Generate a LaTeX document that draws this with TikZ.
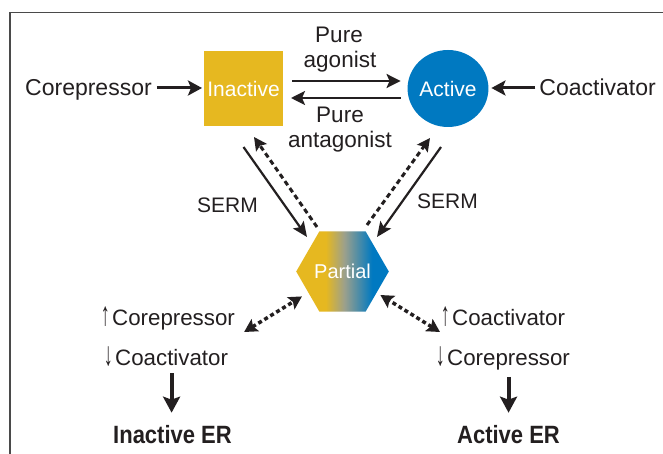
\documentclass[tikz,border=0pt]{standalone}
\usepackage{fontspec}
\usepackage{graphicx}
\setmainfont{Liberation Sans}
\newfontfamily\condfont[FakeStretch=0.88]{Liberation Sans}
\usetikzlibrary{arrows.meta,shapes.geometric,calc}
\definecolor{ink}{HTML}{231F20}
\definecolor{gold}{HTML}{E6B820}
\definecolor{erblue}{HTML}{0079C1}
\definecolor{midgray}{HTML}{9CA08C}
\definecolor{framecol}{HTML}{4A4A4A}
\pgfdeclarehorizontalshading{hexshade}{100bp}{color(0bp)=(gold); color(41bp)=(gold); color(51bp)=(midgray); color(66bp)=(erblue); color(100bp)=(erblue)}
\newcommand\myup{\scalebox{0.8}[1.5]{↑}}
\newcommand\mydn{\scalebox{0.8}[1.5]{↓}}
\begin{document}
\begin{tikzpicture}[x=1pt,y=-1pt,
  lbl/.style={font=\fontsize{23}{26}\selectfont, text=ink, inner sep=0pt},
  plbl/.style={font=\fontsize{22.5}{25}\selectfont, text=ink, inner sep=0pt},
  slbl/.style={font=\fontsize{21}{24}\selectfont, text=ink, inner sep=0pt},
  blbl/.style={font=\fontsize{22.3}{25}\selectfont, text=ink, inner sep=0pt},
  erlbl/.style={font=\condfont\bfseries\fontsize{25}{28}\selectfont, text=ink, inner sep=0pt},
  wlbl/.style={font=\fontsize{21}{24}\selectfont, text=white, inner sep=0pt},
  bigarr/.style={draw=ink, line width=3pt, -{Stealth[length=14pt,width=15pt,inset=3pt]}},
  midarr/.style={draw=ink, line width=2.5pt, -{Stealth[length=14pt,width=14pt,inset=3pt]}},
  sermarr/.style={draw=ink, line width=2.2pt, -{Stealth[length=15pt,width=13pt,inset=3pt]}},
  sermdash/.style={draw=ink, line width=3pt, dash pattern=on 5pt off 3.5pt, -{Stealth[length=13pt,width=13pt,inset=2.5pt]}},
  dotarr/.style={draw=ink, line width=3.5pt, dash pattern=on 4pt off 3pt, {Stealth[length=13pt,width=14pt,inset=2.5pt]}-{Stealth[length=13pt,width=14pt,inset=2.5pt]}},
  downarr/.style={draw=ink, line width=4pt, -{Stealth[length=16pt,width=17pt,inset=3pt]}}
]
\useasboundingbox (0,0) rectangle (663,454);
\fill[white] (0,0) rectangle (663,454);
% frame
\draw[framecol, line width=1.3pt] (10,454) -- (10,12.7) -- (663,12.7);

% main shapes
\node[fill=gold, minimum width=79pt, minimum height=75pt, inner sep=0pt, outer sep=0pt, wlbl] (inactive) at (243.5,88.5) {Inactive};
\node[ellipse, fill=erblue, minimum width=78pt, minimum height=77pt, inner sep=0pt, outer sep=0pt, wlbl] (active) at (448,88.5) {Active};
\node[regular polygon, regular polygon sides=6, minimum size=91pt, inner sep=0pt, outer sep=0pt, shade, shading=hexshade, font=\fontsize{20}{24}\selectfont, text=white] (partial) at (342.5,271.5) {Partial};

% side labels
\node[lbl, anchor=base west] (corep) at (25,95.5) {Corepressor};
\node[lbl, anchor=base east] (coact) at (656,95.5) {Coactivator};

% pure labels
\node[plbl, anchor=base] (pa1) at (339,43) {Pure};
\node[plbl, anchor=base] (pa2) at (340,68) {agonist};
\node[plbl, anchor=base] (pn1) at (340,123) {Pure};
\node[plbl, anchor=base] (pn2) at (340,148) {antagonist};

% SERM labels
\node[slbl, anchor=base west] (serm1) at (197,213) {SERM};
\node[slbl, anchor=base west] (serm2) at (417,209) {SERM};

% bottom labels
\node[blbl, anchor=base west] (lcorep) at (112,325) {\llap{\myup\hspace{2.5pt}}Corepressor};
\node[blbl, anchor=base west] (lcoact) at (115,365) {\llap{\mydn\hspace{2.5pt}}Coactivator};
\node[blbl, anchor=base west] (rcoact) at (452,325) {\llap{\myup\hspace{2.5pt}}Coactivator};
\node[blbl, anchor=base west] (rcorep) at (447,365) {\llap{\mydn\hspace{2.5pt}}Corepressor};
\node[erlbl, anchor=base] (inER) at (172.5,443) {Inactive ER};
\node[erlbl, anchor=base] (actER) at (508.5,443) {Active ER};

% top arrows
\draw[bigarr, shorten >=2pt] ([xshift=5pt,yshift=7.5pt]corep.base east) -- ([yshift=7.5pt]corep.base east -| inactive.west);
\draw[bigarr, shorten >=3pt] ([xshift=-4pt,yshift=7.5pt]coact.base west) -- ([yshift=7.5pt]coact.base west -| active.east);
\draw[midarr] ([xshift=9pt,yshift=7.5pt]inactive.east) -- ([xshift=-7pt,yshift=7.5pt]active.west);
\draw[midarr] ([xshift=-7pt,yshift=-9.5pt]active.west) -- ([xshift=8pt,yshift=-9.5pt]inactive.east);

% SERM arrows
\draw[sermarr] ([yshift=-21pt]inactive.south) -- ([xshift=-35.5pt,yshift=34.5pt]partial.center);
\draw[sermdash] ([xshift=-25.5pt,yshift=44.5pt]partial.center) -- ([xshift=10.5pt,yshift=-11pt]inactive.south);
\draw[sermarr] ([xshift=-7pt,yshift=-20pt]active.south) -- ([xshift=34.5pt,yshift=34.5pt]partial.center);
\draw[sermdash] ([xshift=24.5pt,yshift=46.5pt]partial.center) -- ([xshift=-18pt,yshift=-11pt]active.south);

% dotted double arrows
\draw[dotarr, shorten >=7.5pt] ([xshift=9pt,yshift=-7pt]lcorep.base east) -- (partial);
\draw[dotarr, shorten >=4.5pt] ([xshift=-12pt,yshift=-7pt]rcoact.base west) -- (partial);

% down arrows
\draw[downarr, shorten <=7pt, shorten >=12pt] (lcoact.south) -- (lcoact.south |- inER.north);
\draw[downarr, shorten <=7pt, shorten >=12pt] (rcorep.south) -- (rcorep.south |- actER.north);
\end{tikzpicture}
\end{document}
